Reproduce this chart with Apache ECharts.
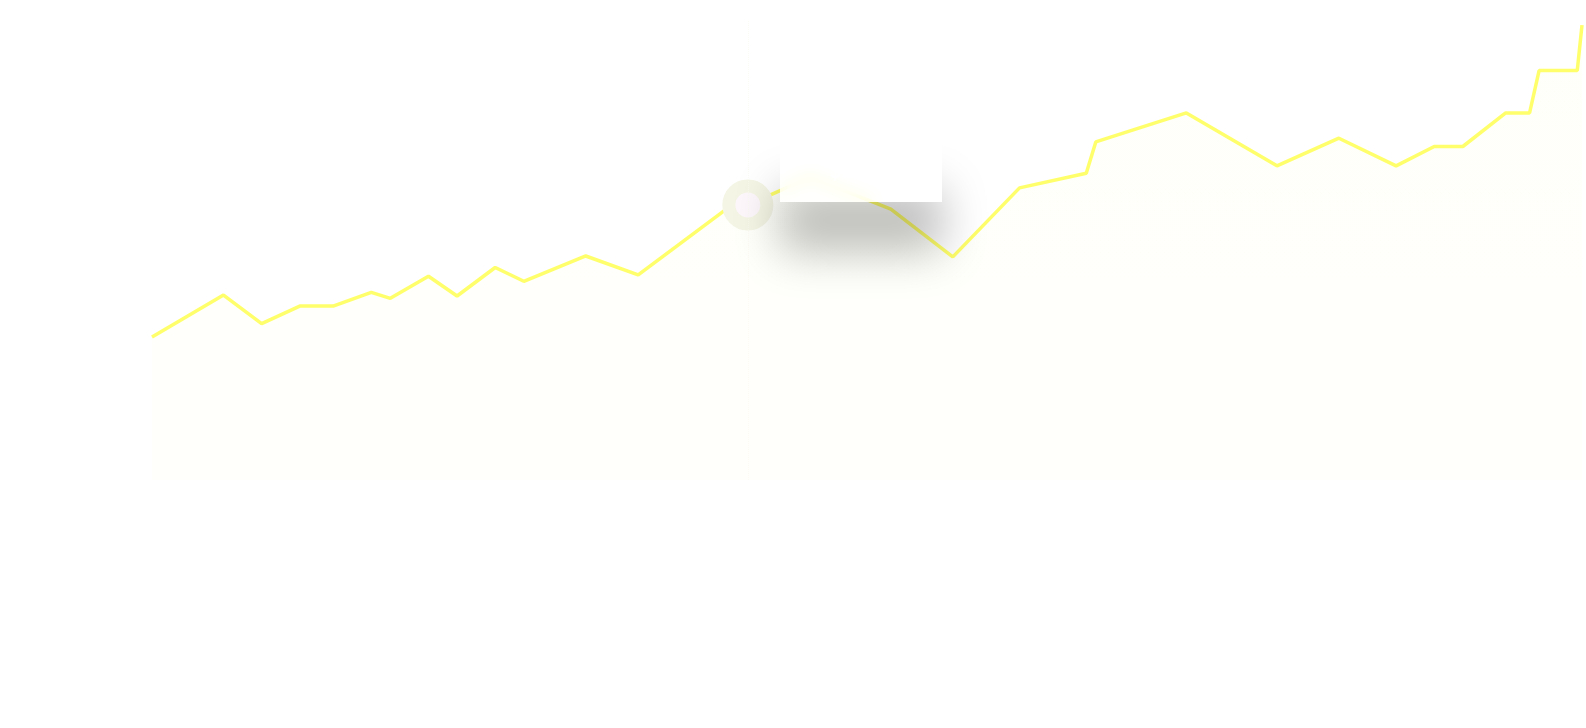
<!DOCTYPE html>
<html>
<head>
<meta charset="utf-8">
<script src="https://cdn.jsdelivr.net/npm/echarts@6/dist/echarts.min.js"></script>
<style>
html,body{margin:0;padding:0;background:#ffffff;}
#chart{width:1586px;height:728px;}
</style>
</head>
<body>
<div id="chart"></div>
<script>
// Data
var dates = [
  '2023-01-01','2023-01-16','2023-01-24','2023-02-01','2023-02-08','2023-02-16',
  '2023-02-20','2023-02-28','2023-03-06','2023-03-14','2023-03-20','2023-04-02',
  '2023-04-13','2023-05-01','2023-05-06','2023-05-13','2023-05-19','2023-06-05',
  '2023-06-18','2023-07-02','2023-07-16','2023-07-18','2023-08-06','2023-08-25',
  '2023-09-07','2023-09-19','2023-09-27','2023-10-03','2023-10-12','2023-10-17',
  '2023-10-19','2023-10-27','2023-10-28'
];
var values = [
  31.1, 40.2, 34.0, 37.8, 37.8, 40.8,
  39.5, 44.3, 40.0, 46.2, 43.2, 48.7,
  44.6, 58.5, 59.8, 63.0, 65.9, 58.9,
  48.5, 63.5, 66.7, 73.5, 79.8, 68.3,
  74.3, 68.3, 72.5, 72.5, 79.8, 79.8,
  89.0, 89.0, 98.9
];
var highlightIndex = 14;

var seriesData = dates.map(function (d, i) { return [d, values[i]]; });

var chart = echarts.init(document.getElementById('chart'), null, {renderer: 'canvas'});
chart.setOption({
  animation: false,
  backgroundColor: '#ffffff',
  grid: {left: 152, right: 4, top: 20, bottom: 248, containLabel: false},
  tooltip: {
    trigger: 'axis',
    transitionDuration: 0,
    showDelay: 0,
    backgroundColor: 'rgba(255,255,255,0.72)',
    borderWidth: 0,
    borderRadius: 0,
    padding: [0, 0],
    extraCssText: 'width:162px;height:64px;box-sizing:border-box;display:flex;align-items:center;justify-content:center;box-shadow:0 50px 45px rgba(0,0,0,0.26);backdrop-filter:blur(7px);-webkit-backdrop-filter:blur(7px);',
    textStyle: {color: '#ffffff', fontSize: 20, fontWeight: 'bold', fontFamily: 'Lato, sans-serif'},
    axisPointer: {
      type: 'line',
      lineStyle: {color: 'rgba(250,250,240,0.6)', width: 1, type: 'dotted'}
    },
    position: function (pt) { return [pt[0] + 32, pt[1] - 67]; },
    formatter: function (params) {
      var v = params[0].value[1];
      return '$' + (v * 100).toLocaleString('en-US', {maximumFractionDigits: 0});
    }
  },
  xAxis: {
    type: 'time',
    min: 'dataMin',
    max: 'dataMax',
    boundaryGap: false,
    axisLine: {show: false},
    axisTick: {show: false},
    splitLine: {show: false},
    axisLabel: {inside: true, color: '#ffffff', fontSize: 16, fontWeight: 'bold', margin: 6, fontFamily: 'Lato, sans-serif'}
  },
  yAxis: {
    type: 'value',
    min: 0,
    max: 100,
    axisLine: {show: false},
    axisTick: {show: false},
    splitLine: {show: false},
    axisLabel: {color: '#ffffff', fontSize: 14}
  },
  series: [{
    type: 'line',
    data: seriesData,
    showSymbol: false,
    symbol: 'circle',
    symbolSize: 38,
    lineStyle: {color: '#f5ec62', width: 3.5},
    itemStyle: {color: '#fdf7fb', borderColor: '#f4f5e4', borderWidth: 13},
    areaStyle: {
      color: new echarts.graphic.LinearGradient(0, 0, 0, 1, [
        {offset: 0, color: 'rgba(246,238,108,0.05)'},
        {offset: 1, color: 'rgba(246,238,108,0.035)'}
      ])
    },
    emphasis: {
      scale: false,
      focus: 'none',
      lineStyle: {width: 3.5},
      itemStyle: {color: '#fdf7fb', borderColor: '#f4f5e4', borderWidth: 13}
    }
  }]
});

setTimeout(function () {
  chart.dispatchAction({type: 'showTip', seriesIndex: 0, dataIndex: highlightIndex});
}, 50);
</script>
</body>
</html>
